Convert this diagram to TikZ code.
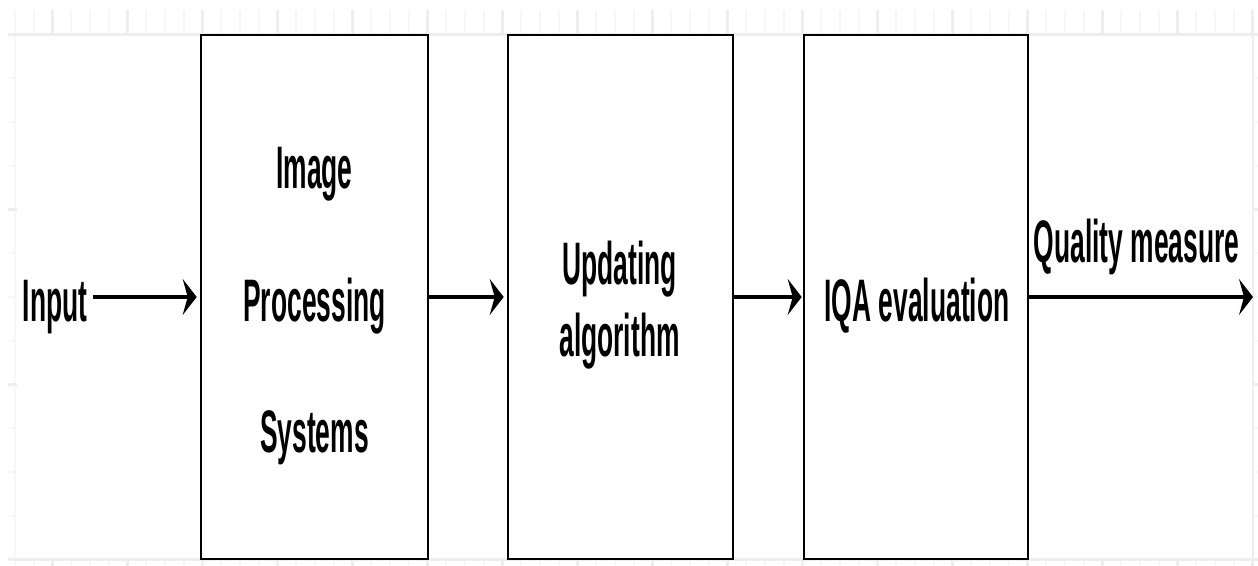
\documentclass[tikz,border=0pt]{standalone}
\usepackage{graphicx}
\usepackage{fontspec}
\setmainfont{Liberation Sans}
\usetikzlibrary{arrows.meta}

\definecolor{gridminor}{HTML}{F7F7F7}
\definecolor{gridmajor}{HTML}{EEEEEE}

% condensed label text
\newcommand{\narrow}[1]{\scalebox{0.44}[1]{#1}}

\tikzset{
  blk/.style={draw=black, line width=1.3pt, fill=white, inner sep=0pt,
              minimum height=262pt},
  lbl/.style={inner sep=1pt, font=\fontsize{30pt}{36pt}\selectfont\bfseries},
  arr/.style={draw=black, line width=2.2pt,
              -{Stealth[length=7pt, width=18pt, inset=2.5pt]}},
  gminor/.style={draw=gridminor, line width=1pt},
  gmajor/.style={draw=gridmajor, line width=1.5pt},
}

\begin{document}
\begin{tikzpicture}[x=0.5pt, y=-0.5pt]
\useasboundingbox (0,0) rectangle (1258,566);
\fill[white] (0,0) rectangle (1258,566);

% background grid around the drawing area
\begin{scope}
  \clip (8,11) rectangle (1258,566);
  \foreach \k in {0,...,66} \draw[gminor] ({15+18.75*\k},0) -- ++(0,566);
  \foreach \j in {0,...,12} \draw[gminor] (0,{34.5+43.75*\j}) -- ++(1258,0);
  \foreach \k in {2,6,...,66} \draw[gmajor] ({15+18.75*\k},0) -- ++(0,566);
  \foreach \j in {0,4,8,12} \draw[gmajor] (0,{34.5+43.75*\j}) -- ++(1258,0);
\end{scope}
\fill[white] (16.5,36) rectangle (1252,558);

% processing blocks
\node[blk, minimum width=113.5pt] (b1) at (314.5,297) {};
\node[blk, minimum width=112.5pt] (b2) at (620.5,297) {};
\node[blk, minimum width=112pt]   (b3) at (916,297) {};

% block labels
\node[lbl, anchor=base] (t1a) at (314.5,189) {\narrow{Image}};
\node[lbl, anchor=base] (t1b) at (314.5,322) {\narrow{Processing}};
\node[lbl, anchor=base] (t1c) at (314.5,452) {\narrow{Systems}};
\node[lbl, anchor=base] (t2a) at (619.5,285) {\narrow{Updating}};
\node[lbl, anchor=base] (t2b) at (619.5,357) {\narrow{algorithm}};
\node[lbl, anchor=base] (t3)  at (917,322)   {\narrow{IQA evaluation}};

% input and output
\node[lbl, anchor=base, inner xsep=2.5pt] (in) at (55,322) {\narrow{Input}};
\node[lbl, anchor=base] (qm) at (1136.5,263) {\narrow{Quality measure}};
\coordinate (qo) at (1253,297);

% connectors
\draw[arr] (in.east |- b1.west) -- ([xshift=-1.5pt]b1.west);
\draw[arr] (b1.east) -- ([xshift=-1.5pt]b2.west);
\draw[arr] (b2.east) -- ([xshift=-0.5pt]b3.west);
\draw[arr] (b3.east) -- (qo);
\end{tikzpicture}
\end{document}
